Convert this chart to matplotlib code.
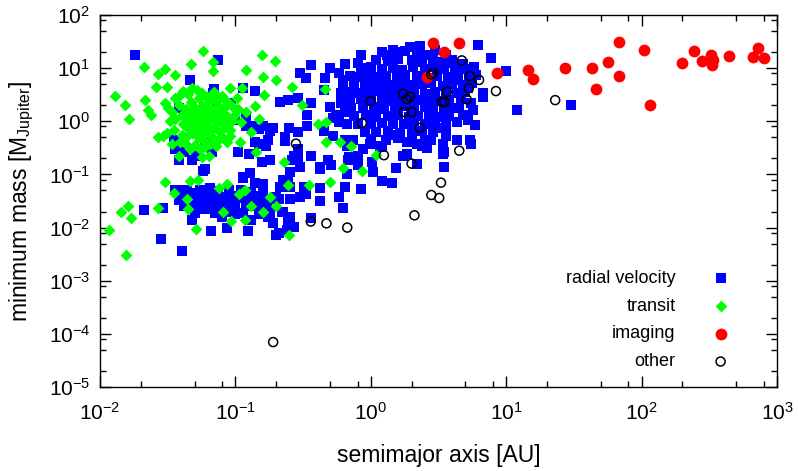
import math
import matplotlib
matplotlib.use("Agg")
import matplotlib.pyplot as plt
from matplotlib.ticker import LogLocator, NullFormatter, FuncFormatter

plt.rcParams['font.family'] = ['Liberation Sans', 'DejaVu Sans']
plt.rcParams['mathtext.fontset'] = 'custom'
plt.rcParams['mathtext.rm'] = 'Liberation Sans'
plt.rcParams['mathtext.it'] = 'Liberation Sans:italic'
plt.rcParams['mathtext.default'] = 'regular'

# === data: (semimajor axis [AU], minimum mass [M_Jupiter]) ===
rv_outer = [
    (0.018, 18), (0.074, 14), (0.046, 5.9), (0.069, 4.0), (0.113, 4.2), (0.14, 3.7),
    (0.038, 1.8), (0.069, 2.2), (0.088, 1.05), (0.12, 1.2), (0.12, 0.8), (0.133, 0.8),
    (0.15, 0.73), (0.18, 0.67), (0.14, 0.40), (0.167, 0.34), (0.175, 0.44), (0.125, 0.24),
    (0.158, 0.175), (0.18, 0.19), (0.104, 0.27), (0.067, 0.26), (0.050, 0.22), (0.038, 0.45),
    (0.036, 0.30), (0.042, 0.26), (0.060, 0.45), (0.080, 1.5), (0.046, 6.0), (0.068, 3.4),
    (0.093, 2.2), (0.10, 1.05), (0.071, 1.85), (0.035, 0.45), (0.15, 0.37), (0.16, 0.8),
    (0.19, 0.76),
]

rv_hot_neptunes = [
    (0.021, 0.021), (0.029, 0.023), (0.028, 0.0062), (0.040, 0.0037), (0.066, 0.0087),
    (0.086, 0.010), (0.123, 0.0087), (0.21, 0.008), (0.060, 0.124), (0.058, 0.115),
    (0.128, 0.107), (0.113, 0.084), (0.14, 0.070), (0.041, 0.050), (0.040, 0.038),
    (0.050, 0.045), (0.057, 0.034), (0.063, 0.042), (0.071, 0.034), (0.080, 0.030),
    (0.088, 0.034), (0.10, 0.030), (0.12, 0.034), (0.14, 0.030), (0.167, 0.035),
    (0.20, 0.038), (0.22, 0.059), (0.245, 0.080), (0.048, 0.025), (0.050, 0.019),
    (0.048, 0.014), (0.060, 0.022), (0.071, 0.019), (0.088, 0.020), (0.10, 0.018),
    (0.113, 0.019), (0.13, 0.014), (0.175, 0.016), (0.19, 0.012), (0.22, 0.020),
    (0.245, 0.014), (0.27, 0.0104), (0.038, 0.19), (0.048, 0.19), (0.113, 0.091),
    (0.036, 0.050), (0.044, 0.052), (0.055, 0.050), (0.065, 0.055), (0.075, 0.048),
    (0.09, 0.052), (0.11, 0.050), (0.13, 0.046), (0.16, 0.052),
    (0.038, 0.033), (0.046, 0.037), (0.053, 0.040), (0.068, 0.036), (0.078, 0.038),
    (0.095, 0.040), (0.115, 0.036), (0.135, 0.038), (0.155, 0.040), (0.18, 0.034),
    (0.042, 0.026), (0.052, 0.027), (0.062, 0.028), (0.072, 0.025), (0.085, 0.026),
    (0.10, 0.024), (0.12, 0.026), (0.145, 0.025), (0.17, 0.027),
    (0.08, 0.016), (0.15, 0.018), (0.16, 0.065),
]

rv_middle = [
    (0.84, 17.5), (0.36, 11.4), (0.30, 8.0), (0.33, 6.4), (0.50, 10), (0.46, 6.4),
    (0.62, 5.2), (0.45, 3.8), (0.60, 3.4), (0.29, 2.8), (0.215, 2.3), (0.245, 2.5),
    (0.36, 2.2), (0.50, 1.85), (0.34, 1.3), (0.55, 1.3), (0.34, 0.8), (0.67, 0.87),
    (0.234, 0.50), (0.53, 0.52), (0.65, 0.45), (0.36, 0.22), (0.27, 0.22), (0.48, 0.19),
    (0.68, 0.19), (0.88, 0.30), (1.02, 0.175), (0.42, 0.14), (0.51, 0.15), (0.234, 0.42),
    (0.29, 0.21), (0.255, 0.109), (0.42, 0.124), (0.67, 0.10), (0.84, 0.054), (0.65, 0.059),
    (0.42, 0.056), (0.42, 0.031), (0.32, 0.059), (0.255, 0.059), (0.215, 0.057),
    (0.255, 0.034), (0.30, 0.038), (0.226, 0.020), (0.255, 0.016), (0.62, 0.023),
    (0.36, 0.015), (0.69, 0.21), (0.80, 0.15), (0.99, 0.37), (1.17, 0.34), (1.03, 0.11),
    (1.2, 0.076), (1.43, 0.070), (1.53, 0.135), (0.62, 5.9), (0.53, 1.15), (0.45, 0.67),
    (0.29, 0.64), (0.25, 0.76), (0.29, 0.30), (0.26, 0.19), (0.30, 0.14), (0.67, 0.34),
    (0.74, 0.45), (0.80, 0.22), (0.58, 0.037), (0.33, 0.042), (0.226, 0.080), (0.21, 0.034),
    (0.18, 0.019), (0.255, 0.012), (0.24, 0.0091), (0.20, 0.0073),
]

rv_giants = [
    (1.85, 0.40), (1.72, 0.22), (2.6, 0.32), (3.5, 0.27), (4.3, 0.45), (3.6, 0.62),
    (1.94, 25), (1.45, 22), (1.31, 17.5), (0.80, 12.4), (0.94, 10), (3.6, 17.5), (2.9, 16),
    (1.85, 0.24), (2.2, 0.37), (2.4, 0.34), (2.2, 0.154), (3.4, 0.24), (3.5, 0.14),
    (5.4, 0.45), (6.2, 27), (7.7, 15.4), (10, 8.7), (6.7, 3.4), (6.7, 2.9), (5.9, 0.84),
    (5.5, 0.37), (4.3, 0.98), (5.2, 1.05), (4.5, 1.8), (5.7, 1.6), (3.6, 0.52), (3.4, 0.37),
    (4.3, 9.2), (4.3, 5.9), (3.6, 12.4), (12, 1.6), (30, 2.0),
    (1.5, 20), (1.8, 21), (2.2, 19), (2.6, 18),
    (1.1, 14), (1.35, 13.5), (1.6, 15), (2.0, 14), (2.4, 13), (2.9, 14.5), (3.3, 13),
    (4.0, 14), (4.8, 12),
    (0.85, 9.5), (1.0, 10.5), (1.2, 9.8), (1.45, 10.2), (1.7, 9.4), (2.05, 10.5),
    (2.5, 9.7), (3.0, 10.3), (3.5, 9.5), (4.2, 10), (5.0, 9.6), (5.8, 10.5),
    (0.7, 7.2), (0.82, 6.8), (0.95, 7.4), (1.1, 6.9), (1.3, 7.1), (1.55, 6.7), (1.8, 7.3),
    (2.2, 7.0), (2.6, 6.6), (3.1, 7.2), (3.7, 6.9), (4.4, 7.1), (5.3, 6.8), (6.0, 7.3),
    (0.62, 5.0), (0.75, 4.9), (0.9, 5.2), (1.05, 4.8), (1.25, 5.1), (1.45, 4.9), (1.7, 5.3),
    (2.0, 4.8), (2.4, 5.0), (2.8, 5.2), (3.4, 4.7), (4.0, 5.1), (4.8, 4.9), (5.6, 5.2),
    (0.66, 3.6), (0.78, 3.4), (0.92, 3.5), (1.1, 3.7), (1.3, 3.3), (1.5, 3.6), (1.8, 3.4),
    (2.1, 3.6), (2.5, 3.3), (3.0, 3.5), (3.6, 3.7), (4.3, 3.4), (5.0, 3.6),
    (0.7, 2.5), (0.85, 2.6), (1.0, 2.4), (1.2, 2.55), (1.4, 2.45), (1.65, 2.6), (1.95, 2.4),
    (2.3, 2.5), (2.7, 2.6), (3.2, 2.4), (3.8, 2.5), (4.6, 2.6),
    (0.72, 1.8), (0.88, 1.75), (1.05, 1.85), (1.25, 1.7), (1.5, 1.8), (1.75, 1.9),
    (2.1, 1.75), (2.5, 1.85), (2.9, 1.7), (3.5, 1.8), (4.1, 1.75),
    (0.75, 1.25), (0.92, 1.3), (1.1, 1.2), (1.35, 1.25), (1.6, 1.3), (1.9, 1.2),
    (2.25, 1.25), (2.7, 1.3), (3.2, 1.2), (3.8, 1.25),
    (0.8, 0.9), (1.0, 0.88), (1.2, 0.92), (1.45, 0.87), (1.75, 0.9), (2.1, 0.93),
    (2.5, 0.88), (3.0, 0.9), (3.6, 0.92),
    (0.9, 0.64), (1.1, 0.62), (1.35, 0.65), (1.65, 0.6), (2.0, 0.63), (2.4, 0.66), (2.9, 0.62),
    (1.0, 0.47), (1.3, 0.45), (1.6, 0.48), (2.0, 0.46), (2.5, 0.44),
    (0.58, 8.0), (0.65, 12), (0.6, 2.2), (0.64, 1.5), (0.58, 0.95), (1.2, 0.33),
    (1.4, 0.55), (2.8, 0.45), (3.2, 0.75), (4.8, 1.3), (5.5, 2.2), (5.2, 4.2),
    (3.0, 22), (2.3, 26), (1.2, 20),
]

transit = [
    (0.058, 21), (0.158, 18), (0.021, 10.4), (0.047, 12), (0.068, 13), (0.195, 13.5),
    (0.030, 9.5), (0.027, 7.6), (0.068, 8.8), (0.12, 9.1), (0.036, 7.3), (0.16, 6.7),
    (0.20, 5.9), (0.26, 4.5), (0.026, 4.5), (0.031, 4.4), (0.013, 3.0), (0.0153, 2.0),
    (0.0164, 1.1), (0.164, 3.1), (0.111, 4.2), (0.091, 4.2), (0.46, 4.0), (0.31, 2.0),
    (0.41, 0.87), (0.47, 0.99), (0.47, 0.40), (0.59, 0.40), (0.72, 0.34), (1.09, 0.23),
    (0.86, 0.114), (0.62, 0.13), (0.50, 0.073), (0.23, 0.175), (0.143, 0.26), (0.245, 0.064),
    (0.35, 0.062), (0.18, 0.037), (0.20, 0.026), (0.16, 0.020), (0.13, 0.026), (0.117, 0.014),
    (0.093, 0.0135), (0.081, 0.020), (0.107, 0.042), (0.117, 0.052), (0.086, 0.067),
    (0.076, 0.056), (0.053, 0.080), (0.046, 0.076), (0.030, 0.073), (0.035, 0.045),
    (0.044, 0.035), (0.045, 0.022), (0.051, 0.0095), (0.027, 0.023), (0.016, 0.026),
    (0.0143, 0.020), (0.017, 0.015), (0.0117, 0.0091), (0.25, 0.0073), (0.0156, 0.0030),
    (0.057, 0.21), (0.064, 0.22), (0.038, 0.22), (0.039, 0.40), (0.027, 0.50), (0.029, 0.52),
    (0.074, 0.45), (0.086, 0.40), (0.109, 0.40), (0.088, 0.76), (0.080, 1.48), (0.084, 2.5),
    (0.103, 2.7), (0.098, 1.8), (0.105, 1.7), (0.057, 3.4), (0.068, 3.4), (0.048, 4.2),
    (0.041, 3.7), (0.0215, 2.5), (0.0226, 1.6), (0.024, 1.3), (0.032, 1.8), (0.036, 2.8),
    (0.091, 0.54),
    (0.030, 2.2), (0.034, 1.5), (0.036, 1.1), (0.038, 2.0), (0.040, 1.3), (0.041, 0.9),
    (0.043, 1.7), (0.044, 1.1), (0.045, 0.75), (0.046, 1.4), (0.047, 2.3), (0.048, 0.6),
    (0.049, 1.0), (0.050, 1.8), (0.051, 0.8), (0.052, 1.25), (0.053, 0.5), (0.054, 2.8),
    (0.055, 1.5), (0.056, 0.95), (0.057, 0.7), (0.058, 1.15), (0.059, 0.42), (0.060, 2.0),
    (0.061, 1.4), (0.062, 0.85), (0.063, 0.6), (0.064, 1.05), (0.066, 1.7), (0.067, 0.5),
    (0.068, 1.25), (0.070, 0.75), (0.072, 2.4), (0.073, 0.95), (0.075, 1.5), (0.077, 0.62),
    (0.079, 1.1), (0.082, 0.85), (0.085, 1.9), (0.088, 1.2), (0.092, 0.7), (0.095, 1.0),
    (0.040, 0.55), (0.043, 0.38), (0.046, 0.3), (0.050, 0.36), (0.055, 0.3), (0.060, 0.33),
    (0.065, 0.38), (0.072, 0.34), (0.035, 0.7), (0.033, 1.0), (0.031, 0.6), (0.038, 3.0),
    (0.045, 3.3), (0.052, 3.8), (0.062, 2.9), (0.070, 3.6), (0.080, 3.0), (0.090, 2.2),
    (0.034, 0.38), (0.043, 0.5), (0.048, 0.85), (0.053, 0.68), (0.058, 0.55), (0.050, 1.3),
    (0.057, 1.9), (0.065, 2.4), (0.075, 1.9), (0.08, 0.5), (0.1, 1.3), (0.11, 0.95),
    (0.12, 1.5), (0.13, 0.62), (0.14, 1.9), (0.15, 1.1),
]

imaging = [
    (2.9, 30), (4.5, 30), (3.5, 20), (2.6, 6.8), (8.5, 8.1), (14.5, 9.2), (15.8, 6.3),
    (27, 10), (43, 10), (56, 13), (68, 31), (68, 7.1), (46, 4.1), (104, 22), (115, 2.0),
    (200, 12.5), (244, 21), (280, 13.7), (325, 17.7), (335, 14.3), (333, 11.5), (440, 17),
    (665, 16), (725, 24), (800, 15.6),
]

other = [
    (4.7, 14), (2.9, 8.1), (2.8, 7.6), (5.4, 7.1), (6.3, 6.0), (8.4, 3.7), (5.3, 4.2),
    (3.65, 3.6), (5.1, 2.6), (3.35, 2.3), (3.5, 2.3), (1.73, 3.3), (1.85, 2.6), (1.95, 2.9),
    (1.0, 2.4), (1.76, 1.5), (2.0, 1.5), (2.3, 0.75), (0.86, 0.93), (0.28, 0.38),
    (1.25, 0.23), (2.0, 0.16), (4.5, 0.28), (3.3, 0.07), (2.8, 0.041), (3.2, 0.036),
    (23, 2.5), (2.1, 0.017), (0.36, 0.013), (0.47, 0.012), (0.67, 0.01), (0.19, 7e-5),
]

labels = ["radial velocity", "transit", "imaging", "other"]


def split(pts):
    return [p[0] for p in pts], [p[1] for p in pts]


rv = rv_outer + rv_hot_neptunes + rv_middle + rv_giants

fig = plt.figure(figsize=(7.98, 4.71), dpi=100)
ax = fig.add_axes([100 / 798, 1 - 387 / 471, 677 / 798, 372 / 471])

x, y = split(rv)
ax.scatter(x, y, marker='s', s=56, c='#0000ff', linewidths=0, label=labels[0], zorder=2)
x, y = split(transit)
ax.scatter(x, y, marker='D', s=36, c='#00ff00', linewidths=0, label=labels[1], zorder=3)
x, y = split(imaging)
ax.scatter(x, y, marker='o', s=72, c='#ff0000', linewidths=0, label=labels[2], zorder=4)
x, y = split(other)
ax.scatter(x, y, marker='o', s=42, facecolors='none', edgecolors='black',
           linewidths=1.1, label=labels[3], zorder=5)

ax.set_xscale('log')
ax.set_yscale('log')
ax.set_xlim(1e-2, 1e3)
ax.set_ylim(1e-5, 1e2)

fmt = FuncFormatter(lambda v, pos: '$10^{%d}$' % round(math.log10(v)))
for axis in (ax.xaxis, ax.yaxis):
    axis.set_major_locator(LogLocator(base=10, numticks=20))
    axis.set_minor_locator(LogLocator(base=10, subs=(2, 5, 8), numticks=20))
    axis.set_major_formatter(fmt)
    axis.set_minor_formatter(NullFormatter())

ax.tick_params(which='both', direction='in', top=True, right=True, width=1.0,
               labelsize=15, colors='black')
ax.tick_params(which='major', length=8)
ax.tick_params(which='minor', length=4)
ax.tick_params(axis='x', which='major', pad=11)
ax.tick_params(axis='y', which='major', pad=7)
for sp in ax.spines.values():
    sp.set_linewidth(1.0)

ax.set_xlabel("semimajor axis [AU]", fontsize=16.5, labelpad=14)
ax.set_ylabel("minimum mass [M$_{Jupiter}$]", fontsize=16.5, labelpad=9)

ax.legend(loc='lower right', bbox_to_anchor=(0.93, 0.045), frameon=False,
          markerfirst=False, scatterpoints=1, handlelength=1.0, handletextpad=2.0,
          labelspacing=0.60, fontsize=13, borderpad=0, borderaxespad=0)

fig.savefig("out.png", dpi=100)
